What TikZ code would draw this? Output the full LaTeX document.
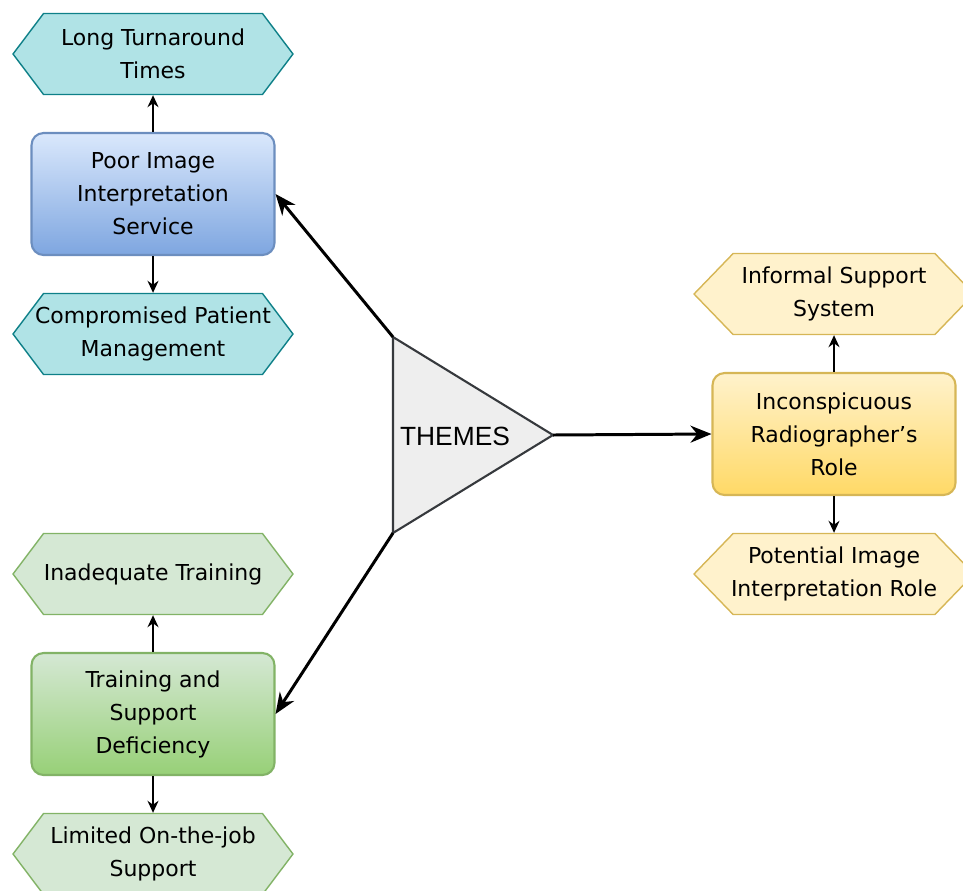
\documentclass[tikz,border=0pt]{standalone}
\usepackage{fontspec}
\setmainfont{DejaVu Sans}
\newfontfamily\themefont{Liberation Sans}
\usetikzlibrary{shapes.symbols,arrows.meta}

\definecolor{tealfill}{HTML}{B0E3E6}
\definecolor{tealline}{HTML}{0E8088}
\definecolor{bluetop}{HTML}{DAE8FC}
\definecolor{bluebot}{HTML}{7EA6E0}
\definecolor{blueline}{HTML}{6C8EBF}
\definecolor{greenfill}{HTML}{D5E8D4}
\definecolor{greenbot}{HTML}{97D077}
\definecolor{greenline}{HTML}{82B366}
\definecolor{yellowfill}{HTML}{FFF2CC}
\definecolor{yellowbot}{HTML}{FFD966}
\definecolor{yellowline}{HTML}{D6B656}
\definecolor{trifill}{HTML}{EEEEEE}
\definecolor{triline}{HTML}{36393D}

\tikzset{
  hexa/.style={signal, signal to=east and west, signal pointer angle=106,
    minimum width=5.6cm, minimum height=1.62cm, inner ysep=0pt,
    inner xsep=-8pt, line width=0.8pt, align=center,
    font=\fontsize{12.5}{18.8}\selectfont},
  themebox/.style={rectangle, rounded corners=0.24cm, minimum width=4.86cm,
    minimum height=2.44cm, line width=1.2pt, align=center,
    font=\fontsize{12.5}{18.8}\selectfont},
  sub/.style={line width=0.9pt, -{Stealth[length=0.24cm,width=0.22cm]}},
  main/.style={line width=1.7pt, -{Stealth[length=0.42cm,width=0.34cm]}}
}

\begin{document}
\begin{tikzpicture}[x=0.02cm,y=-0.02cm]
\useasboundingbox (0,0) rectangle (963,890);
% left, upper theme
\node[hexa,fill=tealfill,draw=tealline] (ltt) at (153,54){Long Turnaround\\Times};
\node[themebox,top color=bluetop,bottom color=bluebot,draw=blueline] (poor) at (153,194){Poor Image\\Interpretation\\Service};
\node[hexa,fill=tealfill,draw=tealline] (cpm) at (153,334){Compromised Patient\\Management};
% left, lower theme
\node[hexa,fill=greenfill,draw=greenline] (inad) at (153,574){Inadequate Training};
\node[themebox,top color=greenfill,bottom color=greenbot,draw=greenline] (train) at (153,714){Training and\\Support\\Deficiency};
\node[hexa,fill=greenfill,draw=greenline] (limit) at (153,854){Limited On-the-job\\Support};
% right theme
\node[hexa,signal pointer angle=92,fill=yellowfill,draw=yellowline] (info) at (834,294){Informal Support\\System};
\node[themebox,top color=yellowfill,bottom color=yellowbot,draw=yellowline] (radio) at (834,434){Inconspicuous\\Radiographer's\\Role};
\node[hexa,signal pointer angle=92,fill=yellowfill,draw=yellowline] (poten) at (834,574){Potential Image\\Interpretation Role};
% centre
\coordinate (ttop) at (393,337);
\coordinate (tapex) at (553,435);
\coordinate (tbot) at (393,533);
\draw[fill=trifill,draw=triline,line width=1.2pt] (ttop) -- (tapex) -- (tbot) -- cycle;
\node[font=\themefont\fontsize{15}{18}\selectfont] (themes) at (455,436){THEMES};

\draw [main](ttop) -- (poor.east);
\draw [main](tbot) -- (train.east);
\draw [main](tapex) -- (radio.west);
\draw [sub](poor) -- (ltt);
\draw [sub](poor) -- (cpm);
\draw [sub](train) -- (inad);
\draw [sub](train) -- (limit);
\draw [sub](radio) -- (info);
\draw [sub](radio) -- (poten);
\end{tikzpicture}
\end{document}
